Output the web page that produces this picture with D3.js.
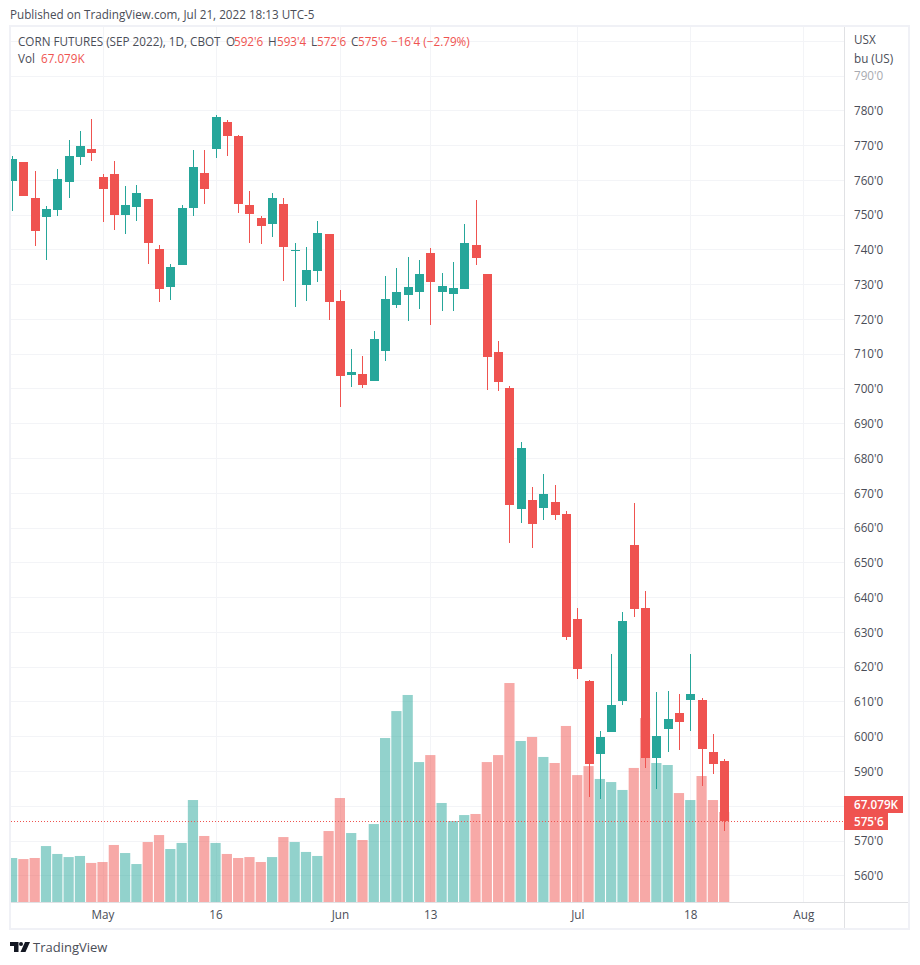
<!DOCTYPE html>
<html>
<head>
<meta charset="utf-8">
<script src="https://cdnjs.cloudflare.com/ajax/libs/d3/7.8.5/d3.min.js"></script>
<style>
  html, body { margin: 0; padding: 0; background: #fff; }
  svg { display: block; }
  text { font-family: "Open Sans", sans-serif; }
</style>
</head>
<body>
<svg id="chart" width="920" height="965"></svg>
<script>
// trading days, index 0 = 20 Apr
var dates = ["Apr 20","Apr 21","Apr 22","Apr 25","Apr 26","Apr 27","Apr 28","Apr 29",
  "May 2","May 3","May 4","May 5","May 6","May 9","May 10","May 11","May 12","May 13",
  "May 16","May 17","May 18","May 19","May 20","May 23","May 24","May 25","May 26","May 27",
  "May 31","Jun 1","Jun 2","Jun 3","Jun 6","Jun 7","Jun 8","Jun 9","Jun 10",
  "Jun 13","Jun 14","Jun 15","Jun 16","Jun 17","Jun 21","Jun 22","Jun 23","Jun 24",
  "Jun 27","Jun 28","Jun 29","Jun 30","Jul 1","Jul 5","Jul 6","Jul 7","Jul 8",
  "Jul 11","Jul 12","Jul 13","Jul 14","Jul 15","Jul 18","Jul 19","Jul 20","Jul 21"];

// whitespace trading days after the last bar, the time axis runs on to Aug
var futureDates = ["Jul 22","Jul 25","Jul 26","Jul 27","Jul 28","Jul 29","Aug 1","Aug 2","Aug 3","Aug 4","Aug 5"];

var opens = [759.75,765,754.75,749.25,751.25,759.5,766.5,768.75,760.75,761.75,750,752.25,754.5,740,729.25,735.5,752,762,
  768.75,776.75,772.5,752.75,749,747.25,753,739.5,729.75,733.75,744.5,725.25,703.75,704.25,702.25,710.75,724,726.75,727.75,
  739,727.75,727.25,728.5,741.25,733,710.5,700,665.25,668,665.5,667.25,664,633.75,615.75,594.75,601.25,610,
  655,636.75,593.75,602,606.75,610.5,610.5,595.5,592.75];
var highs = [766.75,765,762.5,752.5,763,771.5,774,777.5,761.75,765.5,758.25,758.5,754.5,741.25,735.75,752.75,768.5,768.5,
  778.75,777.25,773,756.75,749.5,756.25,754.75,741.75,740.75,748.25,744.5,728.25,711.25,709.25,716.5,732.25,734.75,737.75,737,
  740.5,733.25,736.25,747.25,754.25,733,713.75,700.75,684.5,671.75,675.5,672.25,664.75,636.75,616.25,601.5,623.75,635.75,
  667,641.75,612.75,613,612.25,623.75,611,600.5,593.5];
var lows = [751,755.25,741,737,749.5,754.75,764.25,765.5,747.75,745.5,744.5,748.25,735.75,724.75,725.5,735.5,749.5,753,
  766.25,766.75,750.5,741.75,741.5,743.5,731,723.5,725.25,730.5,719.75,694.75,700.5,700,702.25,708,723.25,719.5,722.75,
  718.25,722.25,722.25,728.5,735.5,699.5,699.25,655.5,661.25,654,662.25,662.25,627.75,616.5,582.5,582,601.25,609,
  634.25,591,584.75,595.5,596,601.5,585.75,589,572.75];
var closes = [766,755.25,745.25,751.5,760.25,766.75,769.75,767.75,757.25,750,752.75,756.25,741.75,728.5,735,752,763.75,757.25,
  778,772.5,753,750.25,746.75,754.75,740.75,739.75,734,744.75,724.75,703.5,704.75,701,714.25,725.75,727.75,729.25,733,
  730.5,729.5,729,741.75,737.5,709,701.75,666.5,682.75,661,669.75,663.5,628.5,619.25,592,599.75,609,633,
  636.5,593.75,600,605,604,612,596.25,592,575.75];
// volume in thousands of contracts, last one is the 67.079K on the legend
var volumes = [32.8,32,32.8,41.7,35.8,33.5,34.3,29.1,29.8,42.5,36.5,28.3,44.7,49.9,39.5,44,76,49.2,
  44,35.8,32.8,33.5,29.8,33.5,48.4,44.7,37.3,34.3,52.9,77.5,51.4,46.2,58.1,122.2,142.3,154.3,104.3,
  109.5,73.8,60.4,64.8,65.6,104.3,109.5,163.2,120,123,108.1,103.6,131.2,94.6,101.3,91.7,89.4,83.5,
  99.9,137.1,103.6,102.1,81.2,76,93.9,76,67.079];

var priceGrid = [560,570,580,590,600,610,620,630,640,650,660,670,680,690,700,710,720,730,740,750,760,770,780,790,800];
// 580 sits behind the last value tags and 800 behind the unit labels
var priceTicks = [560,570,590,600,610,620,630,640,650,660,670,680,690,700,710,720,730,740,750,760,770,780,790];
var timeTicks = [["May 2","May"],["May 16","16"],["Jun 1","Jun"],["Jun 13","13"],["Jul 1","Jul"],["Jul 18","18"],["Aug 1","Aug"]];

var upColor = "#26a69a", downColor = "#ef5350";
var gridColor = "#f3f4f7", frameColor = "#f0f1f6", axisLine = "#e0e1e4", textColor = "#4a4d57";
var fontSize = 11.7;

var svg = d3.select("#chart");
// "top" is taken by window.top, hence the pane prefix
var paneLeft = 11, paneRight = 844, paneTop = 27, paneBottom = 902;

var allDates = dates.concat(futureDates);
// one step per trading day
var x = d3.scalePoint().domain(allDates).range([12.1, 12.1 + 11.303 * (allDates.length - 1)]);
var y = d3.scaleLinear().domain([560, 780]).range([875.3, 110.3]);
var yVol = d3.scaleLinear().domain([0, 67.079]).range([paneBottom, 812]);

function priceLabel(p) {
  // prices are quoted in eighths of a cent
  var whole = Math.floor(p);
  return whole + "'" + Math.round((p - whole) * 8);
}

svg.append("defs").append("clipPath").attr("id", "pane")
  .append("rect").attr("x", paneLeft).attr("y", paneTop)
  .attr("width", paneRight - paneLeft).attr("height", paneBottom - paneTop);

// grid
var grid = svg.append("g").attr("shape-rendering", "crispEdges");
grid.selectAll(".h").data(priceGrid).enter().append("line")
  .attr("x1", paneLeft).attr("x2", paneRight)
  .attr("y1", function(d) { return Math.round(y(d)) + 0.5; })
  .attr("y2", function(d) { return Math.round(y(d)) + 0.5; })
  .attr("stroke", gridColor);
grid.selectAll(".v").data(timeTicks).enter().append("line")
  .attr("x1", function(d) { return Math.round(x(d[0])) + 0.5; })
  .attr("x2", function(d) { return Math.round(x(d[0])) + 0.5; })
  .attr("y1", paneTop).attr("y2", paneBottom)
  .attr("stroke", gridColor);

var pane = svg.append("g").attr("clip-path", "url(#pane)");

// volume under the candles
pane.append("g").selectAll("rect").data(volumes).enter().append("rect")
  .attr("x", function(d, i) { return x(dates[i]) - 5.1; })
  .attr("width", 10.2)
  .attr("y", function(d) { return yVol(d); })
  .attr("height", function(d) { return paneBottom - yVol(d); })
  .attr("fill", function(d, i) { return closes[i] >= opens[i] ? upColor : downColor; })
  .attr("fill-opacity", 0.5);

// wicks
pane.append("g").attr("shape-rendering", "crispEdges").selectAll("line").data(dates).enter().append("line")
  .attr("x1", function(d) { return Math.round(x(d)) + 0.5; })
  .attr("x2", function(d) { return Math.round(x(d)) + 0.5; })
  .attr("y1", function(d, i) { return y(highs[i]); })
  .attr("y2", function(d, i) { return y(lows[i]); })
  .attr("stroke", function(d, i) { return closes[i] >= opens[i] ? upColor : downColor; });

// candle bodies
pane.append("g").attr("shape-rendering", "crispEdges").selectAll("rect").data(dates).enter().append("rect")
  .attr("x", function(d) { return Math.round(x(d)) - 4; })
  .attr("width", 9)
  .attr("y", function(d, i) { return y(Math.max(opens[i], closes[i])); })
  .attr("height", function(d, i) { return Math.max(1, Math.abs(y(opens[i]) - y(closes[i]))); })
  .attr("fill", function(d, i) { return closes[i] >= opens[i] ? upColor : downColor; });

// last price line
var lastClose = closes[closes.length - 1];
var lastVolume = volumes[volumes.length - 1];
svg.append("line")
  .attr("x1", paneLeft).attr("x2", paneRight)
  .attr("y1", Math.round(y(lastClose)) + 0.5).attr("y2", Math.round(y(lastClose)) + 0.5)
  .attr("stroke", downColor).attr("stroke-dasharray", "1 2");

// frame and axis lines
var frame = svg.append("g").attr("shape-rendering", "crispEdges").attr("fill", "none");
frame.append("rect").attr("x", 10).attr("y", 26).attr("width", 899).attr("height", 903)
  .attr("stroke", frameColor).attr("stroke-width", 2);
frame.append("line").attr("x1", paneRight + 0.5).attr("x2", paneRight + 0.5).attr("y1", paneTop).attr("y2", 928).attr("stroke", axisLine);
frame.append("line").attr("x1", paneLeft).attr("x2", 908).attr("y1", paneBottom + 0.5).attr("y2", paneBottom + 0.5).attr("stroke", axisLine);

// price axis, drawn with the d3 axis and stripped of its line
var yAxis = svg.append("g").attr("transform", "translate(844,0.5)")
  .call(d3.axisRight(y).tickValues(priceTicks).tickFormat(priceLabel).tickSize(0).tickPadding(10));
yAxis.select(".domain").remove();
yAxis.selectAll("text").attr("font-size", fontSize).attr("font-family", "'Open Sans', sans-serif")
  .attr("fill", function(d) { return d === 790 ? "#a8aab0" : textColor; });

// time axis
var xAxis = svg.append("g").attr("transform", "translate(0,902)")
  .call(d3.axisBottom(x).tickValues(timeTicks.map(function(d) { return d[0]; }))
    .tickFormat(function(d) { return timeTicks.find(function(t) { return t[0] === d; })[1]; })
    .tickSize(0).tickPadding(9));
xAxis.select(".domain").remove();
xAxis.selectAll("text").attr("font-size", fontSize).attr("font-family", "'Open Sans', sans-serif").attr("fill", textColor);

// unit labels on the price axis
svg.append("text").attr("x", 854).attr("y", 44).attr("font-size", fontSize).attr("fill", textColor).text("USX");
svg.append("text").attr("x", 854).attr("y", 63).attr("font-size", fontSize).attr("fill", textColor).text("bu (US)");

// last value tags
var tags = [
  { label: d3.format(".3f")(lastVolume) + "K", y0: 796, w: 59 },
  { label: priceLabel(lastClose), y0: 813, w: 44 }
];
var tag = svg.append("g").selectAll("g").data(tags).enter().append("g");
tag.append("rect").attr("x", paneRight).attr("y", function(d) { return d.y0; }).attr("width", function(d) { return d.w; })
  .attr("height", 17).attr("fill", downColor);
tag.append("text").attr("x", 854).attr("y", function(d) { return d.y0 + 13; })
  .attr("font-size", fontSize).attr("font-weight", 600).attr("fill", "#fff").text(function(d) { return d.label; });

// header
svg.append("text").attr("x", 10).attr("y", 19).attr("font-size", fontSize).attr("fill", textColor)
  .text("Published on TradingView.com, Jul 21, 2022 18:13 UTC-5");

var legend = [
  ["CORN FUTURES (SEP 2022), 1D, CBOT", 18, textColor],
  ["O", 226, textColor], ["592'6", 234, downColor],
  ["H", 268, textColor], ["593'4", 277, downColor],
  ["L", 311, textColor], ["572'6", 317, downColor],
  ["C", 351, textColor], ["575'6", 358, downColor],
  ["\u221216'4 (\u22122.79%)", 391, downColor]
];
svg.append("g").selectAll("text").data(legend).enter().append("text")
  .attr("x", function(d) { return d[1]; }).attr("y", 46)
  .attr("font-size", fontSize).attr("fill", function(d) { return d[2]; }).text(function(d) { return d[0]; });
svg.append("text").attr("x", 18).attr("y", 63).attr("font-size", fontSize).attr("fill", textColor).text("Vol");
svg.append("text").attr("x", 41).attr("y", 63).attr("font-size", fontSize).attr("fill", downColor).text("67.079K");

// footer logo
var logo = svg.append("g").attr("transform", "translate(10,942)").attr("fill", "#131722");
logo.append("path").attr("d", "M0 0H8.5V10H4V4H0Z");
logo.append("circle").attr("cx", 11).attr("cy", 2).attr("r", 2);
logo.append("path").attr("d", "M15 0H20L15.5 10H10.5Z");
svg.append("text").attr("x", 33).attr("y", 952).attr("font-size", 13).attr("fill", textColor).text("TradingView");
</script>
</body>
</html>
